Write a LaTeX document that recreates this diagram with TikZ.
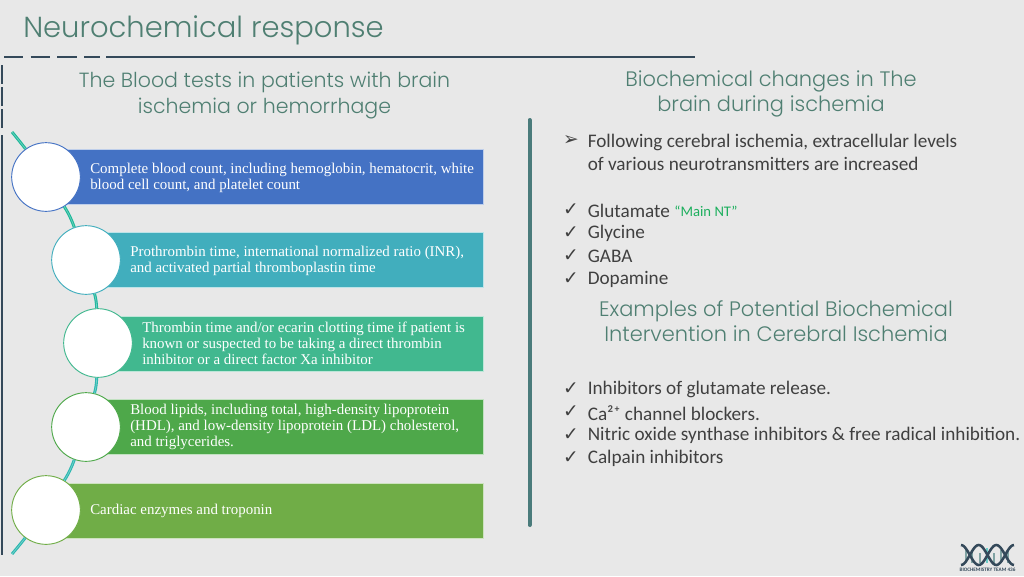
\documentclass[tikz,border=0pt]{standalone}
\usepackage{fontspec}
\setmainfont{Carlito}
\newfontfamily\headfont{Poppins Light}
\newfontfamily\barfont{Liberation Serif}
\newfontfamily\markfont{DejaVu Sans}
\usetikzlibrary{positioning,calc}
\definecolor{pagebg}{HTML}{E8E8E8}
\definecolor{headcol}{HTML}{4F7F72}
\definecolor{rulecol}{HTML}{34495A}
\definecolor{splitcol}{HTML}{4A7B7B}
\definecolor{bodycol}{HTML}{404040}
\definecolor{notecol}{HTML}{1DAF5E}
\definecolor{arcA}{HTML}{1FB89A}
\definecolor{arcB}{HTML}{22B79F}
\definecolor{arcC}{HTML}{2DB8B0}
\definecolor{barA}{HTML}{4472C4}
\definecolor{barB}{HTML}{41AEBD}
\definecolor{barC}{HTML}{41B88F}
\definecolor{barD}{HTML}{4EA84A}
\definecolor{barE}{HTML}{70AD47}
\tikzset{
  headtext/.style={text=headcol, font=\headfont\fontsize{15.4}{19.5}\selectfont, align=center, inner sep=0pt},
  headwide/.style={headtext, font=\headfont\fontsize{15.7}{19.2}\selectfont},
  bodytext/.style={text=bodycol, font=\fontsize{14.4}{17.25}\selectfont, align=left, anchor=west, inner sep=0pt},
  tick/.style={text=bodycol, font=\markfont\fontsize{14}{15}\selectfont, inner sep=0pt},
  barbox/.style={draw=#1!35!white, fill=#1, line width=.5pt, anchor=west, inner sep=0pt},
  bartext/.style={text=white, font=\barfont\fontsize{11.2}{12}\selectfont, align=left, anchor=west, inner sep=0pt},
  bead/.style={circle, draw=#1, fill=white, line width=.7pt, minimum size=51.5pt, inner sep=0pt},
  arcinner/.style={draw=white, draw opacity=.35, line width=.5pt},
  dashrule/.style={draw=rulecol, line width=1.8pt}
}
\begin{document}
\begin{tikzpicture}[x=.75pt,y=-.75pt]
  \useasboundingbox (0,0) rectangle (1024,576);
  \fill[pagebg] (0,0) rectangle (1024,576);

  % frame lines
  \coordinate (ha) at (4,57);
  \coordinate (hb) at (100,57);
  \coordinate (hc) at (106,57);
  \coordinate (hd) at (695,57);
  \coordinate (va) at (2.2,65);
  \coordinate (vb) at (2.2,128);
  \coordinate (vc) at (2.2,135);
  \coordinate (vd) at (2.2,555);
  \draw[dashrule, dash pattern=on 14.5pt off 5.5pt] (ha) -- (hb);
  \draw[dashrule] (hc) -- (hd);
  \draw[dashrule, dash pattern=on 14pt off 2.5pt] (va) -- (vb);
  \draw[dashrule] (vc) -- (vd);

  \node[headtext, font=\headfont\fontsize{21.75}{26}\selectfont, anchor=west] (title) at (23,30) {Neurochemical response};
  \node[headtext] (headl) at (264.5,96) {The Blood tests in patients with brain\\ischemia or hemorrhage};
  \node[headwide] (headr) at (771,94) {Biochemical changes in The\\brain during ischemia};

  % bars first, beads go on top
  \node[barbox=barA, minimum width=327.75pt, minimum height=41pt] (b1) at (46,177) {};
  \node[barbox=barB, minimum width=297.75pt, minimum height=41.5pt] (b2) at (86,260) {};
  \node[barbox=barC, minimum width=288.75pt, minimum height=41pt] (b3) at (98,343.5) {};
  \node[barbox=barD, minimum width=297.75pt, minimum height=41pt] (b4) at (86,426.5) {};
  \node[barbox=barE, minimum width=327.75pt, minimum height=41pt] (b5) at (46,510.5) {};

  \coordinate (arctop) at (12,132);
  \coordinate (arcend) at (12,554);
  \node[bead=barA] (c1) at (46,177) {};
  \node[bead=barB] (c2) at (86,260) {};
  \node[bead=barC] (c3) at (98,343) {};
  \node[bead=barD] (c4) at (86,427) {};
  \node[bead=barE] (c5) at (46,510) {};
  \foreach \from/\to/\ang/\col in {arctop/c1/1/arcA, c1/c2/6/arcA, c2/c3/6/arcB, c3/c4/6/arcC, c4/c5/6/arcC, c5/arcend/1/arcC} {
    \draw[draw=\col, line width=2.2pt] (\from) to[bend left=\ang] (\to);
    \draw[arcinner] (\from) to[bend left=\ang] (\to);
  }

  \node[bartext] (t1) at (90,177.8) {Complete blood count, including hemoglobin, hematocrit, white\\blood cell count, and platelet count};
  \node[bartext] (t2) at (130,261.3) {Prothrombin time, international normalized ratio (INR),\\and activated partial thromboplastin time};
  \node[bartext] (t3) at (142,343.6) {Thrombin time and/or ecarin clotting time if patient is\\known or suspected to be taking a direct thrombin\\inhibitor or a direct factor Xa inhibitor};
  \node[bartext] (t4) at (130,427) {Blood lipids, including total, high-density lipoprotein\\(HDL), and low-density lipoprotein (LDL) cholesterol,\\and triglycerides.};
  \node[bartext] (t5) at (90,511.3) {Cardiac enzymes and troponin};

  \coordinate (spa) at (529.5,120);
  \coordinate (spb) at (529.5,525);
  \draw[draw=splitcol, line width=3pt, line cap=round] (spa) -- (spb);

  % right column
  \node[tick] (m0) at (571,141) {\char"27A2};
  \node[bodytext] (lead) at (587.5,152.5) {Following cerebral ischemia, extracellular levels\\of various neurotransmitters are increased};
  \foreach \y/\txt in {210/Glutamate, 233/Glycine, 256/GABA, 279/Dopamine} {
    \node[tick] (m\y) at (571,\y) {\char"2713};
    \node[bodytext] (n\y) at (587.5,\y+.8) {\txt};
  }
  \node[text=notecol, font=\fontsize{11}{12}\selectfont, anchor=west, inner sep=0pt, right=3pt of n210] (note) {“Main NT”};
  \node[headwide] (headx) at (776,321) {Examples of Potential Biochemical\\Intervention in Cerebral Ischemia};
  \foreach \y/\txt in {389/Inhibitors of glutamate release., 412/Ca²⁺ channel blockers., 435/Nitric oxide synthase inhibitors \& free radical inhibition., 458/Calpain inhibitors} {
    \node[tick] (m\y) at (571,\y) {\char"2713};
    \node[bodytext] (n\y) at (587.5,\y+.8) {\txt};
  }

  % team mark
  \foreach \x/\top/\col in {966/549/splitcol, 972/552/splitcol, 980/553/splitcol, 987/548/arcC, 994/553/splitcol, 1001/550/splitcol, 1008/549/splitcol} {
    \draw[draw=\col!70!white, line width=1.3pt] (\x,\top) -- (\x,563);
  }
  \draw[draw=rulecol, line width=1.9pt] plot[domain=0:1, samples=40] ({961+53*\x},{555+10*cos(\x*540)});
  \draw[draw=rulecol, line width=1.9pt] plot[domain=0:1, samples=40] ({961+53*\x},{555-10*cos(\x*540)});
  \node[text=rulecol, font=\bfseries\fontsize{3.9}{4}\selectfont, inner sep=0pt] (teamname) at (987.5,570) {BIOCHEMISTRY TEAM 436};
\end{tikzpicture}
\end{document}
